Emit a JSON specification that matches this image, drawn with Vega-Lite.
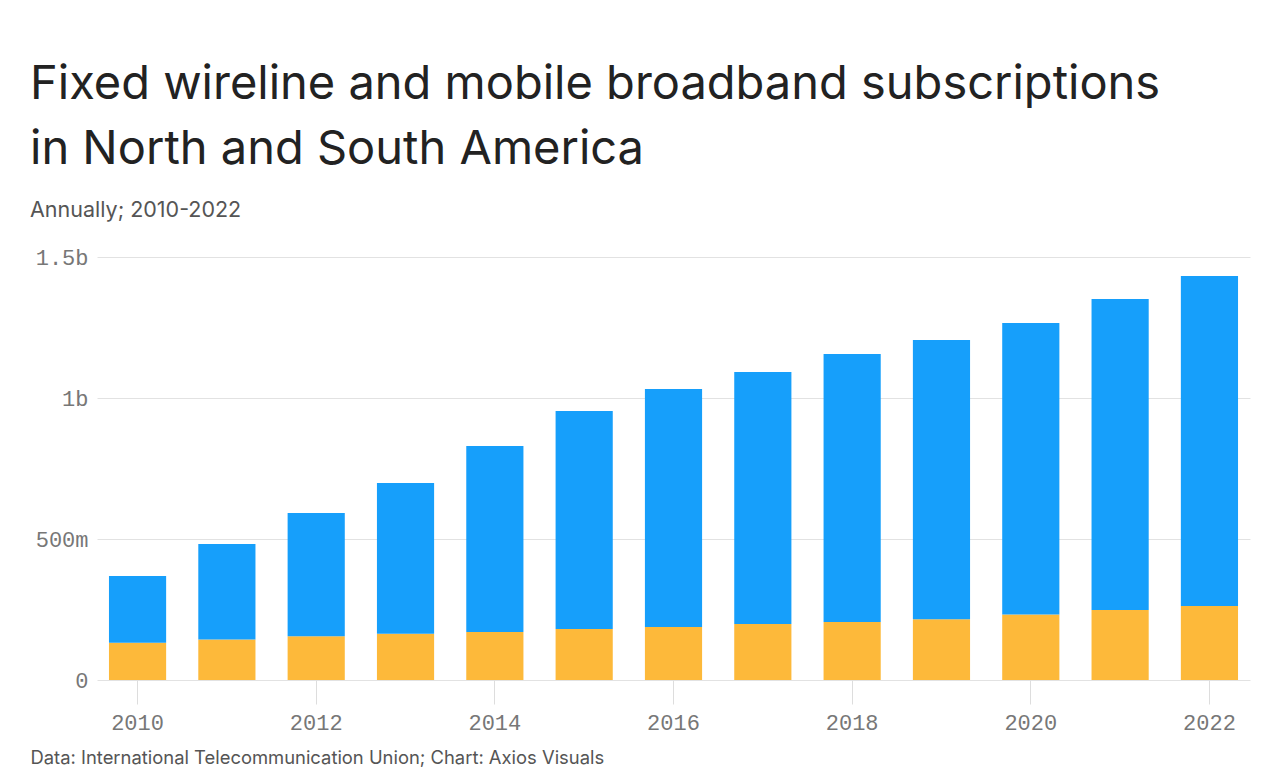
{
  "$schema": "https://vega.github.io/schema/vega-lite/v6.json",
  "width": 1153,
  "height": 423,
  "autosize": {"type": "none"},
  "padding": {"left": 97, "top": 257, "right": 30, "bottom": 104},
  "background": "white",
  "title": {
    "text": ["Fixed wireline and mobile broadband subscriptions", "in North and South America"],
    "subtitle": "Annually; 2010-2022",
    "anchor": "start",
    "frame": "group",
    "dx": -67,
    "offset": 24,
    "font": "Inter",
    "fontSize": 47,
    "fontWeight": "normal",
    "color": "#222222",
    "lineHeight": 65,
    "subtitleFont": "Inter",
    "subtitleFontSize": 21.5,
    "subtitleColor": "#555555",
    "subtitlePadding": 26
  },
  "data": {
    "values": [
      {"year": "2010", "type": "Fixed wireline", "value": 132000000},
      {"year": "2010", "type": "Mobile", "value": 237000000},
      {"year": "2011", "type": "Fixed wireline", "value": 144000000},
      {"year": "2011", "type": "Mobile", "value": 338000000},
      {"year": "2012", "type": "Fixed wireline", "value": 155000000},
      {"year": "2012", "type": "Mobile", "value": 437000000},
      {"year": "2013", "type": "Fixed wireline", "value": 164000000},
      {"year": "2013", "type": "Mobile", "value": 535000000},
      {"year": "2014", "type": "Fixed wireline", "value": 170000000},
      {"year": "2014", "type": "Mobile", "value": 660000000},
      {"year": "2015", "type": "Fixed wireline", "value": 181000000},
      {"year": "2015", "type": "Mobile", "value": 773000000},
      {"year": "2016", "type": "Fixed wireline", "value": 188000000},
      {"year": "2016", "type": "Mobile", "value": 844000000},
      {"year": "2017", "type": "Fixed wireline", "value": 199000000},
      {"year": "2017", "type": "Mobile", "value": 893000000},
      {"year": "2018", "type": "Fixed wireline", "value": 206000000},
      {"year": "2018", "type": "Mobile", "value": 950000000},
      {"year": "2019", "type": "Fixed wireline", "value": 215000000},
      {"year": "2019", "type": "Mobile", "value": 991000000},
      {"year": "2020", "type": "Fixed wireline", "value": 232000000},
      {"year": "2020", "type": "Mobile", "value": 1034000000},
      {"year": "2021", "type": "Fixed wireline", "value": 248000000},
      {"year": "2021", "type": "Mobile", "value": 1103000000},
      {"year": "2022", "type": "Fixed wireline", "value": 262000000},
      {"year": "2022", "type": "Mobile", "value": 1171000000}
    ]
  },
  "mark": {"type": "bar"},
  "encoding": {
    "x": {
      "field": "year",
      "type": "ordinal",
      "scale": {"paddingInner": 0.36, "paddingOuter": 0.134},
      "axis": {
        "values": ["2010", "2012", "2014", "2016", "2018", "2020", "2022"],
        "labelAngle": 0,
        "labelFont": "Liberation Mono",
        "labelFontSize": 22,
        "labelColor": "#777777",
        "labelPadding": 8,
        "domain": false,
        "ticks": true,
        "tickColor": "#dddddd",
        "tickSize": 24,
        "tickWidth": 1,
        "title": "Data: International Telecommunication Union; Chart: Axios Visuals",
        "titleFont": "Inter",
        "titleFontSize": 18.4,
        "titleFontWeight": "normal",
        "titleColor": "#555555",
        "titleAnchor": "start",
        "titleAlign": "left",
        "titleBaseline": "alphabetic",
        "titleX": -67,
        "titleY": 83
      }
    },
    "y": {
      "field": "value",
      "type": "quantitative",
      "stack": "zero",
      "scale": {"domain": [0, 1500000000], "nice": false},
      "axis": {
        "values": [0, 500000000, 1000000000, 1500000000],
        "labelExpr": "datum.value == 0 ? '0' : datum.value >= 1000000000 ? format(datum.value / 1000000000, '~') + 'b' : format(datum.value / 1000000, '~') + 'm'",
        "labelFont": "Liberation Mono",
        "labelFontSize": 22,
        "labelColor": "#777777",
        "labelPadding": 9,
        "domain": false,
        "ticks": false,
        "grid": true,
        "gridColor": "#e2e2e2",
        "gridWidth": 1,
        "title": null
      }
    },
    "color": {
      "field": "type",
      "type": "nominal",
      "scale": {"domain": ["Fixed wireline", "Mobile"], "range": ["#FDB93A", "#169FFB"]},
      "legend": null
    },
    "order": {"field": "type", "sort": "ascending"}
  },
  "config": {
    "view": {"stroke": null}
  }
}
